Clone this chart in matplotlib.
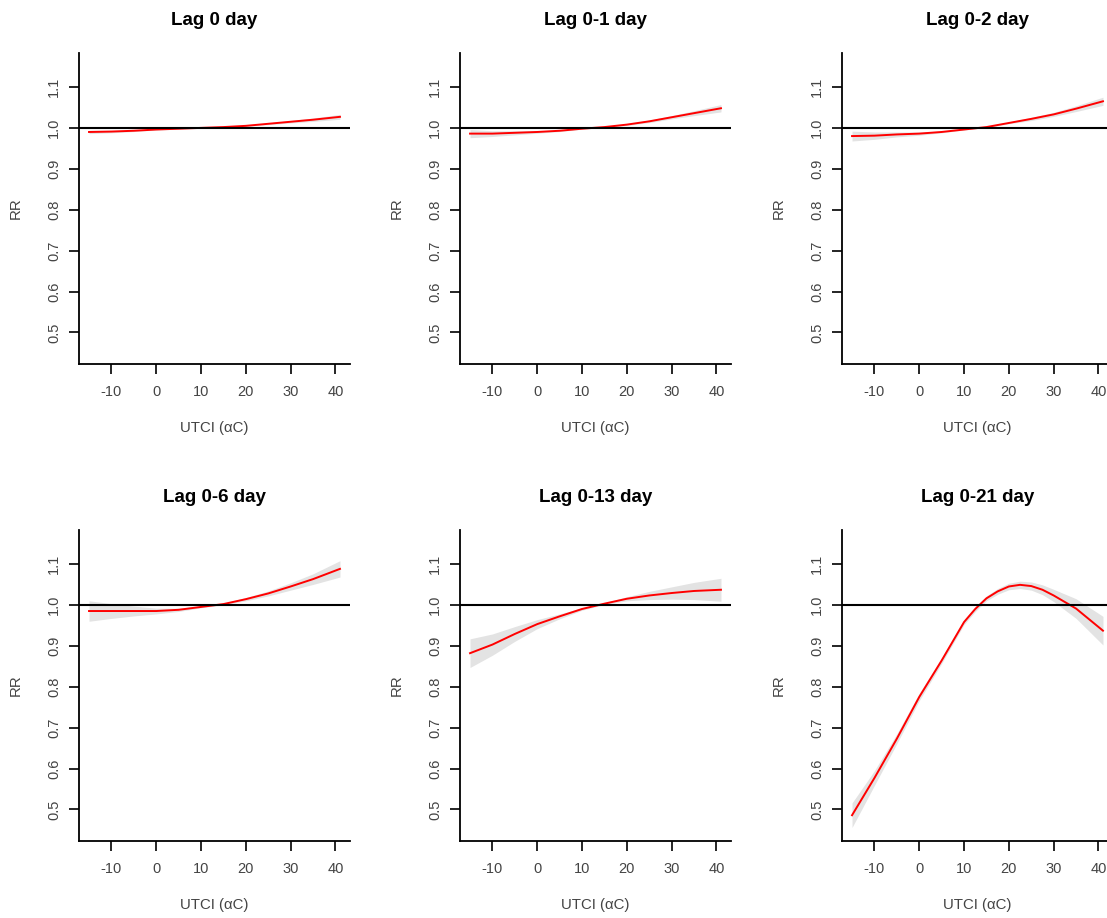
import matplotlib.pyplot as plt

plt.rcParams['font.family'] = ['Liberation Sans', 'DejaVu Sans']
plt.rcParams['axes.unicode_minus'] = False

# UTCI values where the curves were read
utci = [-15, -10, -5, 0, 5, 10, 15, 20, 25, 30, 35, 41]
# the lag 0-21 curve bends more, so it was read more densely
utci_21 = [-15, -10, -5, 0, 5, 10, 12.5, 15, 17.5, 20, 22.5, 25, 27.5, 30, 35, 41]

titles = ['Lag 0 day', 'Lag 0-1 day', 'Lag 0-2 day',
          'Lag 0-6 day', 'Lag 0-13 day', 'Lag 0-21 day']

# cumulative RR per lag window
rr_lag0 = [0.990, 0.991, 0.993, 0.996, 0.998, 1.000, 1.002, 1.005, 1.010, 1.015, 1.020, 1.027]
rr_lag01 = [0.986, 0.986, 0.988, 0.990, 0.993, 0.998, 1.002, 1.008, 1.016, 1.026, 1.036, 1.048]
rr_lag02 = [0.980, 0.981, 0.984, 0.986, 0.990, 0.996, 1.002, 1.012, 1.022, 1.033, 1.047, 1.065]
rr_lag06 = [0.985, 0.985, 0.985, 0.985, 0.988, 0.995, 1.002, 1.014, 1.028, 1.045, 1.063, 1.088]
rr_lag013 = [0.882, 0.903, 0.929, 0.953, 0.972, 0.990, 1.003, 1.015, 1.023, 1.029, 1.034, 1.037]
rr_lag021 = [0.486, 0.577, 0.673, 0.775, 0.864, 0.958, 0.990, 1.016, 1.033, 1.045,
             1.049, 1.046, 1.037, 1.023, 0.991, 0.937]

# 95% CI bounds
lo_lag0 = [0.986, 0.988, 0.991, 0.995, 0.997, 1.000, 1.001, 1.004, 1.008, 1.012, 1.016, 1.021]
hi_lag0 = [0.994, 0.994, 0.995, 0.997, 0.999, 1.000, 1.003, 1.006, 1.012, 1.018, 1.024, 1.033]
lo_lag01 = [0.976, 0.979, 0.983, 0.987, 0.991, 0.997, 1.001, 1.006, 1.013, 1.022, 1.030, 1.039]
hi_lag01 = [0.996, 0.993, 0.993, 0.993, 0.995, 0.999, 1.003, 1.010, 1.019, 1.030, 1.042, 1.057]
lo_lag02 = [0.968, 0.972, 0.978, 0.982, 0.988, 0.995, 1.001, 1.010, 1.018, 1.028, 1.040, 1.055]
hi_lag02 = [0.992, 0.990, 0.990, 0.990, 0.992, 0.997, 1.003, 1.014, 1.026, 1.038, 1.054, 1.075]
lo_lag06 = [0.960, 0.967, 0.973, 0.978, 0.984, 0.993, 1.000, 1.010, 1.022, 1.036, 1.050, 1.068]
hi_lag06 = [1.010, 1.003, 0.997, 0.992, 0.992, 0.997, 1.004, 1.018, 1.034, 1.054, 1.076, 1.108]
lo_lag013 = [0.847, 0.877, 0.911, 0.942, 0.966, 0.987, 1.001, 1.010, 1.013, 1.014, 1.013, 1.009]
hi_lag013 = [0.917, 0.929, 0.947, 0.964, 0.978, 0.993, 1.005, 1.020, 1.033, 1.044, 1.055, 1.065]
lo_lag021 = [0.456, 0.559, 0.661, 0.766, 0.857, 0.952, 0.984, 1.010, 1.026, 1.037,
             1.040, 1.036, 1.025, 1.008, 0.967, 0.902]
hi_lag021 = [0.516, 0.595, 0.685, 0.784, 0.871, 0.964, 0.996, 1.022, 1.040, 1.053,
             1.058, 1.056, 1.049, 1.038, 1.015, 0.972]

rr_all = [rr_lag0, rr_lag01, rr_lag02, rr_lag06, rr_lag013, rr_lag021]
lo_all = [lo_lag0, lo_lag01, lo_lag02, lo_lag06, lo_lag013, lo_lag021]
hi_all = [hi_lag0, hi_lag01, hi_lag02, hi_lag06, hi_lag013, hi_lag021]
x_all = [utci, utci, utci, utci, utci, utci_21]

W, H = 1107, 918
fig = plt.figure(figsize=(W / 100, H / 100), dpi=100)

# panel boxes in pixels (right column is cut off by the figure edge)
lefts = [79, 460, 842]
tops = [53, 530]
pw, ph = 271, 311
txt = '#444444'

for i in range(6):
    r, c = divmod(i, 3)
    ax = fig.add_axes([lefts[c] / W, 1 - (tops[r] + ph) / H, pw / W, ph / H])
    ax.fill_between(x_all[i], lo_all[i], hi_all[i], color='#e3e3e3', lw=0)
    ax.plot(x_all[i], rr_all[i], color='red', lw=1.4)
    ax.axhline(1.0, color='black', lw=1.5)

    ax.set_xlim(-17.24, 43.24)
    ax.set_ylim(0.423, 1.183)
    ax.set_xticks([-10, 0, 10, 20, 30, 40])
    ax.set_yticks([0.5, 0.6, 0.7, 0.8, 0.9, 1.0, 1.1])
    ax.set_yticklabels(['0.5', '0.6', '0.7', '0.8', '0.9', '1.0', '1.1'],
                       rotation=90, va='center')
    ax.tick_params(direction='out', length=7, width=1.2, labelsize=10.5,
                   labelcolor=txt)
    ax.tick_params(axis='x', pad=8)
    ax.tick_params(axis='y', pad=6)
    for s in ['top', 'right']:
        ax.spines[s].set_visible(False)
    for s in ['left', 'bottom']:
        ax.spines[s].set_linewidth(1.3)

    ax.set_xlabel('UTCI (αC)', fontsize=10.8, color=txt)
    ax.set_ylabel('RR', fontsize=10.8, color=txt)
    ax.xaxis.set_label_coords(0.5, -0.182)
    ax.yaxis.set_label_coords(-0.207, 0.5)
    ax.text(0.5, 1.106, titles[i], transform=ax.transAxes, ha='center',
            va='center', fontsize=13.5, fontweight='bold')

fig.savefig('out.png', dpi=100)
